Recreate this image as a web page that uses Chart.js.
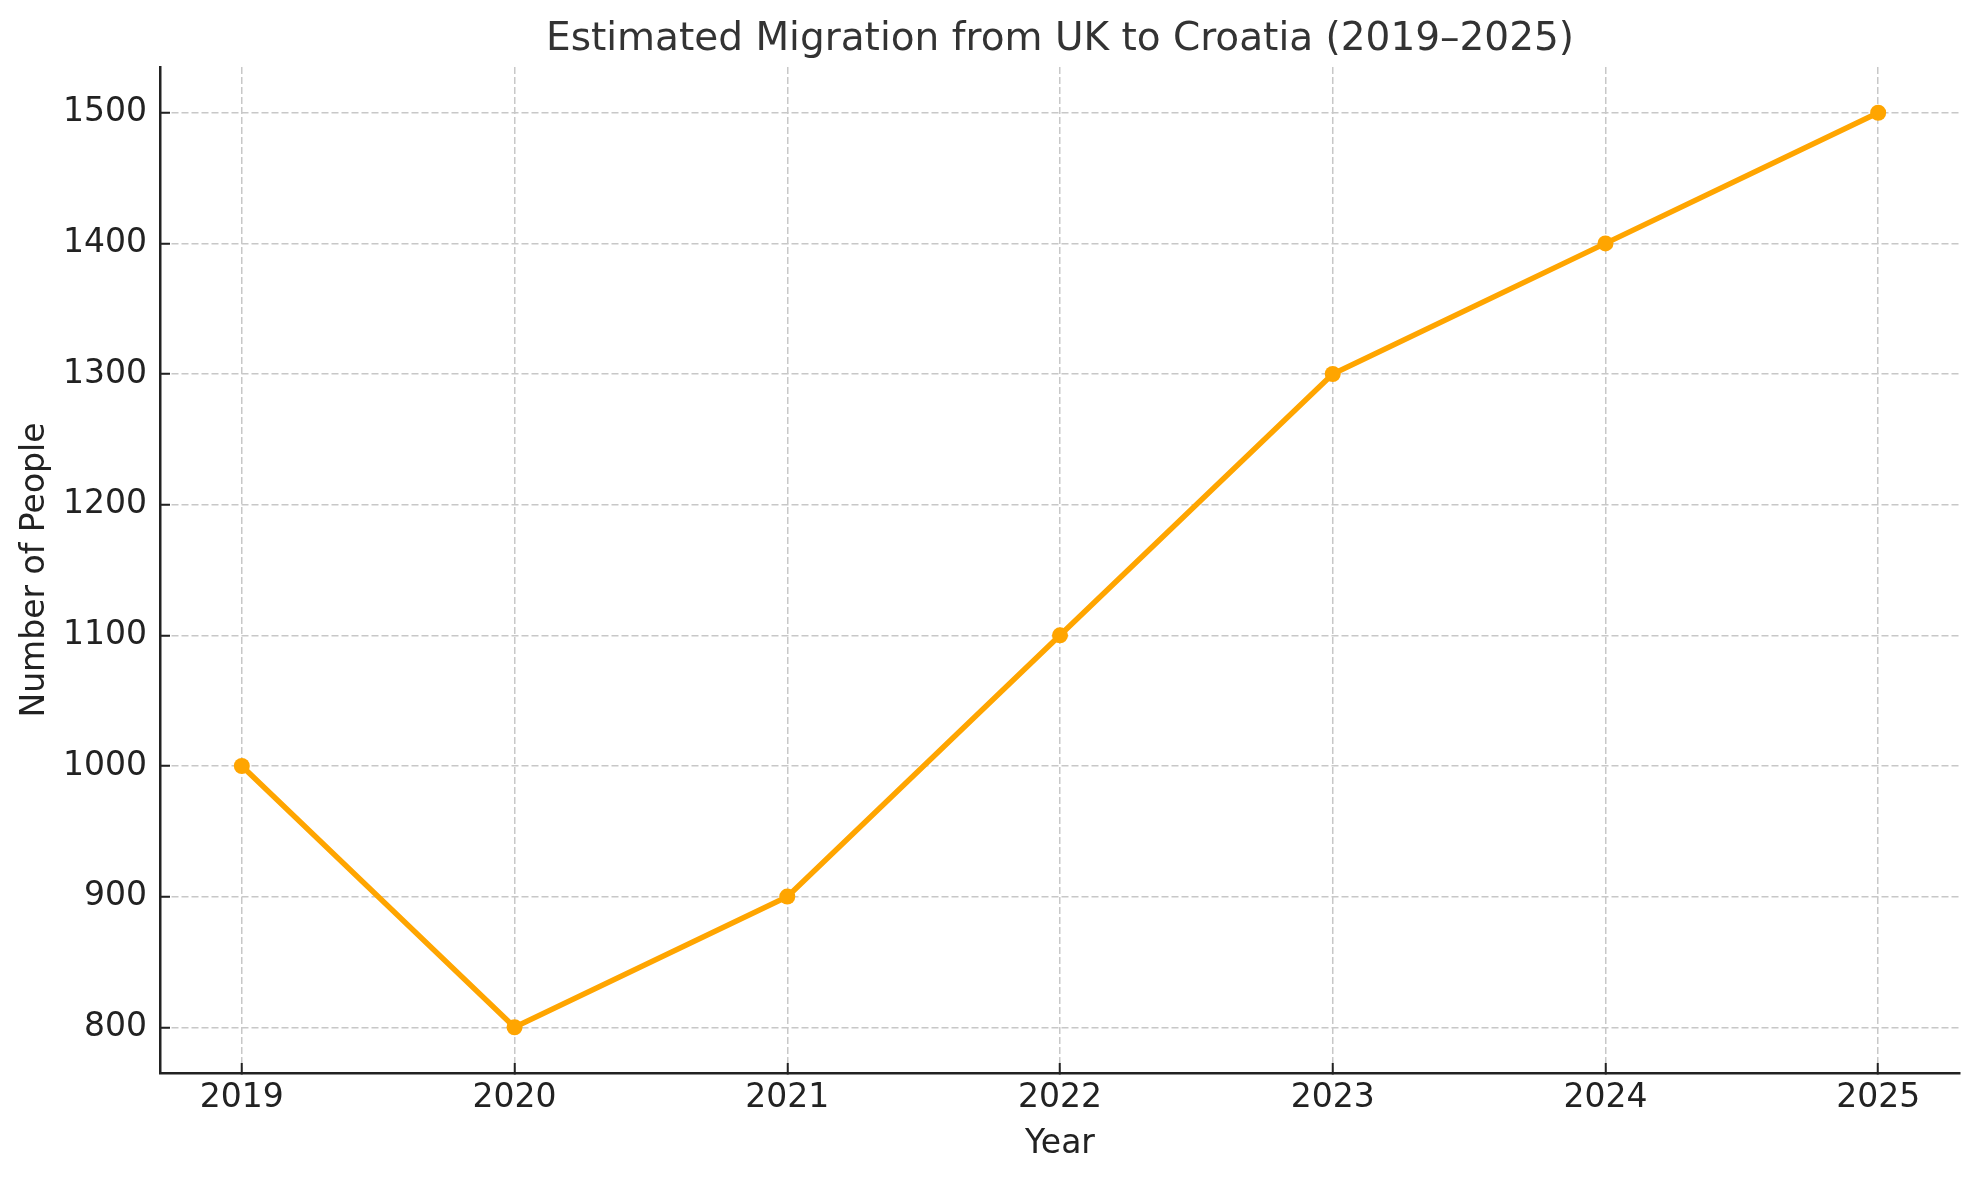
<!DOCTYPE html>
<html lang="en">
<head>
  <meta charset="UTF-8">
  <title>Estimated Migration from UK to Croatia (2019–2025)</title>
  <script src="https://cdn.jsdelivr.net/npm/chart.js@4/dist/chart.umd.min.js"></script>
  <style>
    html, body { margin: 0; padding: 0; background: #fff; }
    canvas { display: block; }
  </style>
</head>
<body>
  <canvas id="myChart" width="1979" height="1180"></canvas>

<script>
// chart data
const years = [2019, 2020, 2021, 2022, 2023, 2024, 2025]
const people = [1000, 800, 900, 1100, 1300, 1400, 1500]
const yTicks = [800, 900, 1000, 1100, 1200, 1300, 1400, 1500]

const chartTitle = 'Estimated Migration from UK to Croatia (2019–2025)'
const FONT = "'DejaVu Sans', sans-serif"

// title centred over the plot area, like matplotlib does
const axesTitle = {
  id: 'axesTitle',
  afterDraw(chart) {
    const { ctx, chartArea } = chart
    ctx.save()
    ctx.font = '39px ' + FONT
    ctx.fillStyle = '#333333'
    ctx.textAlign = 'center'
    ctx.textBaseline = 'alphabetic'
    ctx.fillText(chartTitle, (chartArea.left + chartArea.right) / 2, 50)
    ctx.restore()
  }
}

const gridOpts = {
  color: '#c8c8c8',
  lineWidth: 1.5,
  tickLength: -10,       // inward ticks
  tickColor: '#222222',
  tickWidth: 2,
  tickBorderDash: []
}

let ctx = document.getElementById('myChart').getContext('2d')

let migrationChart = new Chart(ctx, {
  type: 'line',
  data: {
    datasets: [{
      label: 'Number of People',
      data: years.map((y, i) => ({ x: y, y: people[i] })),
      borderColor: '#FFA500',
      backgroundColor: '#FFA500',
      borderWidth: 5.5,
      pointRadius: 8,
      pointHoverRadius: 8,
      pointBorderWidth: 0,
      pointBackgroundColor: '#FFA500',
      tension: 0,
      fill: false
    }]
  },
  options: {
    responsive: false,
    devicePixelRatio: 1,
    animation: false,
    layout: { padding: { top: 67, right: 19, left: 0, bottom: 0 } },
    plugins: {
      legend: { display: false },
      title: { display: false },
      tooltip: { enabled: false }
    },
    scales: {
      x: {
        type: 'linear',
        min: 2018.7,
        max: 2025.3,
        afterBuildTicks: s => { s.ticks = years.map(v => ({ value: v })) },
        afterFit: s => { s.height = 107 },
        grid: Object.assign({}, gridOpts),
        // border.dash dashes the grid lines; the axis line itself stays solid
        border: { display: true, color: '#222222', width: 2.5, dash: [7, 3] },
        ticks: {
          autoSkip: false,
          maxRotation: 0,
          padding: 16,
          color: '#222222',
          font: { family: FONT, size: 33 },
          callback: v => String(v)
        },
        title: {
          display: true,
          text: 'Year',
          color: '#222222',
          font: { family: FONT, size: 33 },
          padding: { top: 0, bottom: 16 }
        }
      },
      y: {
        min: 765,
        max: 1535,
        afterBuildTicks: s => { s.ticks = yTicks.map(v => ({ value: v })) },
        afterFit: s => { s.width = 160 },
        grid: Object.assign({}, gridOpts),
        border: { display: true, color: '#222222', width: 2.5, dash: [7, 3] },
        ticks: {
          padding: 23,
          color: '#222222',
          font: { family: FONT, size: 33 },
          callback: v => String(v)
        },
        title: {
          display: true,
          text: 'Number of People',
          color: '#222222',
          font: { family: FONT, size: 33 },
          padding: { top: 16, bottom: 0 }
        }
      }
    }
  },
  plugins: [axesTitle]
})
</script>
</body>
</html>
